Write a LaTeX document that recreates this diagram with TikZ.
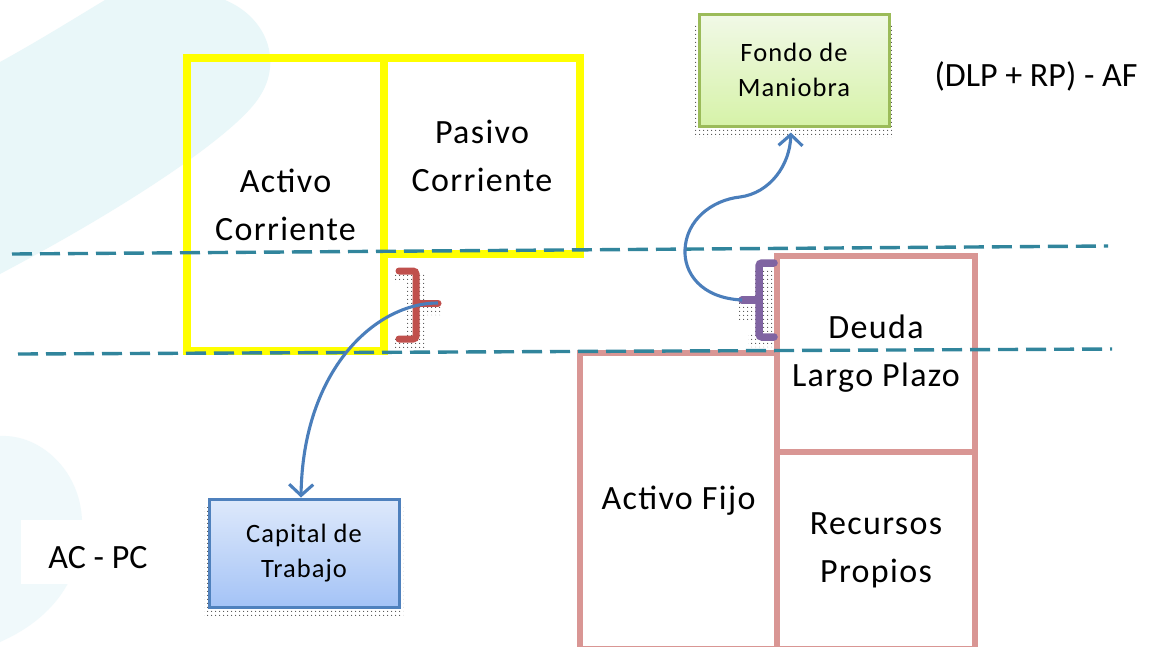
\documentclass[tikz,border=0pt]{standalone}
\usepackage{fontspec}
\setmainfont{Carlito}
\newfontfamily\boxfont[LetterSpace=4]{Carlito}
\usetikzlibrary{arrows.meta,patterns.meta}
\definecolor{yel}{RGB}{255,255,0}
\definecolor{pinkb}{RGB}{217,150,148}
\definecolor{dashteal}{RGB}{49,133,156}
\definecolor{conblue}{RGB}{74,126,187}
\definecolor{redbr}{RGB}{192,80,77}
\definecolor{purbr}{RGB}{128,100,162}
\definecolor{greenb}{RGB}{155,187,89}
\definecolor{greentop}{RGB}{241,249,231}
\definecolor{greenbot}{RGB}{214,242,168}
\definecolor{bluebd}{RGB}{79,129,189}
\definecolor{bluetop}{RGB}{222,233,251}
\definecolor{bluebot}{RGB}{164,195,246}
\definecolor{bgcyan}{RGB}{233,247,249}
\begin{document}
\begin{tikzpicture}[x=1pt,y=-1pt,
  bigtxt/.style={font=\boxfont\fontsize{34}{48}\selectfont, align=center, text=black},
  smalltxt/.style={font=\boxfont\fontsize{26.5}{35}\selectfont, align=center, text=black},
  ybox/.style={bigtxt, draw=yel, line width=7.5pt, inner sep=0pt},
  pbox/.style={bigtxt, draw=pinkb, fill=white, line width=6.7pt, inner sep=0pt},
  gbox/.style={smalltxt, draw=greenb, line width=3pt, top color=greentop, bottom color=greenbot, inner sep=0pt},
  bbox/.style={smalltxt, draw=bluebd, line width=3pt, top color=bluetop, bottom color=bluebot, inner sep=0pt},
  formula/.style={font=\fontsize{34}{40}\selectfont, text=black, anchor=base, inner sep=0pt},
  dashline/.style={draw=dashteal, line width=3.4pt, dash pattern=on 20pt off 8pt},
  conn/.style={draw=conblue, line width=3.1pt, -{Straight Barb[length=11pt,width=24pt]}},
  shadowdots/.style={pattern={Dots[distance=4pt,radius=0.7pt]}, pattern color=black!70},
  bracered/.style={draw=redbr, line width=7pt, line cap=round, rounded corners=3pt},
  bracepur/.style={draw=purbr, line width=7.5pt, line cap=round, rounded corners=3pt}]
\useasboundingbox (0,0) rectangle (1150,646);
\fill[white] (0,0) rectangle (1150,646);
% faint background shapes
\fill[bgcyan] (0,62) .. controls (40,40) and (80,15) .. (105,0) -- (225,0)
  .. controls (268,18) and (282,62) .. (260,96) .. controls (240,130) and (140,200) .. (0,274) -- cycle;
\fill[bgcyan!70!white] (0,436) .. controls (40,434) and (80,470) .. (82,520) .. controls (84,580) and (50,620) .. (0,642) -- cycle;
\fill[white] (21,520) rectangle (180,584);
% yellow boxes
\node[ybox, minimum width=197pt, minimum height=293pt] (ac) at (285.5,204.5) {Activo\\Corriente};
\node[ybox, minimum width=196pt, minimum height=196pt] (pc) at (482,156) {Pasivo\\Corriente};
% pink boxes
\node[pbox, minimum width=197pt, minimum height=296pt] (af) at (678.5,501) {Activo Fijo};
\node[pbox, minimum width=198pt, minimum height=196pt] (dlp) at (876,354) {Deuda\\Largo Plazo};
\node[pbox, minimum width=198pt, minimum height=197pt] (rp) at (876,550.5) {Recursos\\Propios};
% dashed lines
\coordinate (d1a) at (12,254); \coordinate (d1b) at (1108,246);
\coordinate (d2a) at (18,354); \coordinate (d2b) at (1112,349);
\draw[dashline] (d1a) -- (d1b);
\draw[dashline] (d2a) -- (d2b);
% small boxes with dotted shadows
\fill[shadowdots] (694,24) rectangle (892,137);
\node[gbox, minimum width=190pt, minimum height=112pt] (fondo) at (794,70) {Fondo de\\Maniobra};
\fill[shadowdots] (204,507) rectangle (403,617);
\node[bbox, minimum width=190pt, minimum height=108pt] (cap) at (304,553) {Capital de\\Trabajo};
% formulas
\node[formula] (fm) at (1036,86) {(DLP + RP) - AF};
\node[formula] (acpc) at (98,568) {AC - PC};
% red brace
\fill[shadowdots] (394,274) -- (426,274) -- (426,300) -- (441,300) -- (441,315) -- (426,315) -- (426,349) -- (394,349) -- (394,336) -- (406,336) -- (406,282) -- (394,282) -- cycle;
\coordinate (rtip) at (438,303);
\draw[bracered] (399,271) -- (416,271) -- (416,339) -- (399,339);
\draw[bracered, rounded corners=0pt] (416,303) -- (rtip);
% purple brace
\fill[shadowdots] (754,268) -- (773,268) -- (773,347) -- (748,347) -- (748,334) -- (754,334) -- (754,321) -- (737,321) -- (737,302) -- (754,302) -- cycle;
\coordinate (ptip) at (742,300);
\draw[bracepur] (774,263) -- (759,263) -- (759,337) -- (774,337);
\draw[bracepur, rounded corners=0pt] (759,300) -- (ptip);
% connectors
\draw[conn] (rtip) .. controls (375,303) and (303,370) .. ([xshift=-3pt]cap.north);
\draw[conn, shorten >=5pt] (ptip) .. controls (700,298) and (684,272) .. (685,250)
  .. controls (686,220) and (712,200) .. (740,197)
  .. controls (770,193) and (790,165) .. ([xshift=-3pt]fondo.south);
\end{tikzpicture}
\end{document}
